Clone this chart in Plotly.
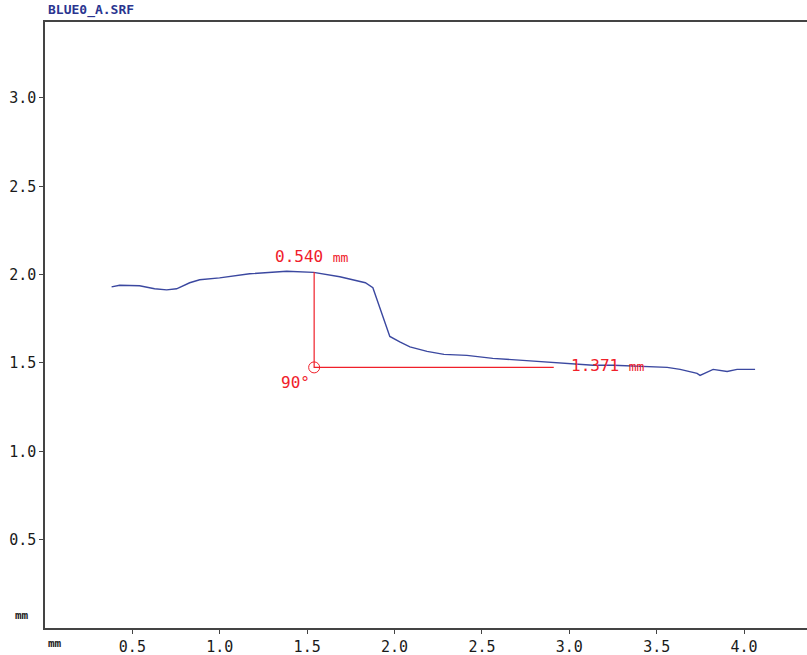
import plotly.graph_objects as go

# Surface profile (mm)
profile_x = [0.381, 0.427, 0.541, 0.627, 0.696, 0.753, 0.828, 0.885, 0.999, 1.171, 1.383, 1.537,
             1.687, 1.833, 1.876, 1.904, 1.944, 1.973, 2.030, 2.088, 2.186, 2.283, 2.414, 2.562,
             2.734, 2.832, 2.987, 3.136, 3.251, 3.445, 3.560, 3.634, 3.731, 3.748, 3.806, 3.823,
             3.903, 3.960, 4.017, 4.063]
profile_y = [1.931, 1.940, 1.937, 1.920, 1.914, 1.920, 1.954, 1.971, 1.982, 2.005, 2.019, 2.013,
             1.988, 1.954, 1.926, 1.843, 1.730, 1.650, 1.619, 1.591, 1.566, 1.549, 1.543, 1.526,
             1.515, 1.509, 1.498, 1.487, 1.487, 1.481, 1.475, 1.464, 1.441, 1.430, 1.458, 1.464,
             1.452, 1.464, 1.464, 1.464]

# Measurement
corner_x = 1.54
corner_y = 1.475
height_mm = 0.540
length_mm = 1.371
angle_deg = 90

x_ticks = [0.5, 1.0, 1.5, 2.0, 2.5, 3.0, 3.5, 4.0]
y_ticks = [0.5, 1.0, 1.5, 2.0, 2.5, 3.0]
tick_font = dict(family="DejaVu Sans Mono", size=15, color="#1a1a1a")
red = "#f0202a"

fig = go.Figure()
fig.add_trace(go.Scatter(x=profile_x, y=profile_y, mode="lines",
                         line=dict(color="#3b48a0", width=1.4), hoverinfo="skip"))
fig.add_trace(go.Scatter(x=[corner_x, corner_x, corner_x + length_mm],
                         y=[corner_y + height_mm, corner_y, corner_y], mode="lines",
                         line=dict(color=red, width=1.2), hoverinfo="skip"))
fig.add_trace(go.Scatter(x=[corner_x], y=[corner_y], mode="markers",
                         marker=dict(symbol="circle-open", size=11, color=red, line=dict(width=1)),
                         hoverinfo="skip"))

ann_font = dict(family="DejaVu Sans Mono", size=16, color=red)
fig.add_annotation(x=corner_x - 0.014, y=corner_y + height_mm + 0.09, xref="x", yref="y",
                   text=f"{height_mm:.3f} <span style='font-size:13px'>mm</span>",
                   showarrow=False, font=ann_font)
fig.add_annotation(x=corner_x - 0.105, y=corner_y - 0.087, xref="x", yref="y",
                   text=f"{angle_deg}°", showarrow=False, font=ann_font)
fig.add_annotation(x=corner_x + length_mm + 0.085, y=corner_y + 0.012, xref="x", yref="y",
                   text=f"{length_mm:.3f} <span style='font-size:13px'>mm</span>",
                   showarrow=False, font=ann_font, xanchor="left")

fig.add_annotation(x=0.0, y=1.0, xref="paper", yref="paper", xanchor="left", yanchor="bottom",
                   xshift=1, yshift=2, text="<b>BLUE0_A.SRF</b>", showarrow=False,
                   font=dict(family="DejaVu Sans Mono", size=13, color="#2a3590"))
fig.add_annotation(x=0.0, y=0.0, xref="paper", yref="paper", xanchor="right", yanchor="middle",
                   xshift=-14, yshift=13, text="<b>mm</b>", showarrow=False,
                   font=dict(family="DejaVu Sans Mono", size=11, color="#1a1a1a"))
fig.add_annotation(x=0.0, y=0.0, xref="paper", yref="paper", xanchor="left", yanchor="top",
                   xshift=1, yshift=-7, text="<b>mm</b>", showarrow=False,
                   font=dict(family="DejaVu Sans Mono", size=11, color="#1a1a1a"))

fig.update_layout(
    width=807, height=655,
    margin=dict(l=45, r=0, t=22, b=27, autoexpand=False),
    plot_bgcolor="white", paper_bgcolor="white",
    showlegend=False,
    xaxis=dict(range=[0, 4.36], tickvals=x_ticks, ticktext=[f"{v:.1f}" for v in x_ticks],
               showgrid=False, zeroline=False, showline=True, linecolor="#444", linewidth=1.5,
               mirror=True, ticks="outside", ticklen=4, tickcolor="#444", tickfont=tick_font),
    yaxis=dict(range=[0, 3.43], tickvals=y_ticks, ticktext=[f"{v:.1f}" for v in y_ticks],
               showgrid=False, zeroline=False, showline=True, linecolor="#444", linewidth=1.5,
               ticks="outside", ticklen=4, tickcolor="#444", tickfont=tick_font),
)

fig.write_html("out.html", config={"displayModeBar": False},
               post_script="document.body.style.margin='0';document.body.style.padding='0';")
